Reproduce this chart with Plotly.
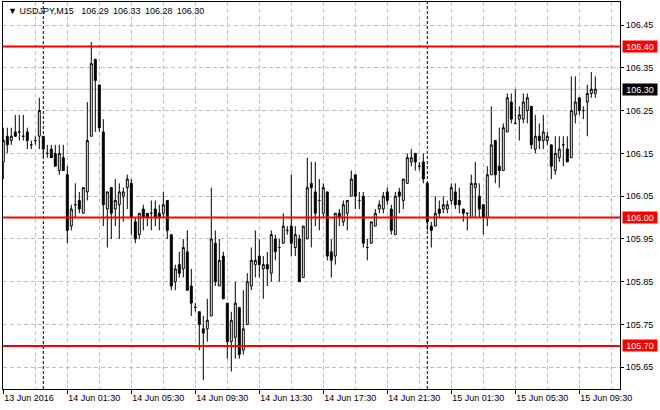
import plotly.graph_objects as go
import pandas as pd

symbol = "USDJPY,M15"
start_time = "2016-06-13 21:30"

opens = [
    106.13, 106.19, 106.18, 106.20, 106.20, 106.19, 106.20, 106.17, 106.18, 106.19,
    106.19, 106.15, 106.16, 106.15, 106.11, 106.14, 106.10, 105.98, 106.03, 106.04,
    106.01, 106.06, 106.19, 106.37, 106.31, 106.20, 106.02, 106.07, 106.02, 106.03,
    106.05, 106.07, 106.08, 105.99, 105.96, 106.02, 106.01, 106.01, 106.02, 106.01,
    106.01, 106.04, 105.96, 105.85, 105.89, 105.88, 105.92, 105.84, 105.79, 105.78,
    105.74, 105.74, 105.77, 105.94, 105.84, 105.91, 105.80, 105.71, 105.72, 105.79,
    105.69, 105.75, 105.84, 105.89, 105.91, 105.88, 105.89, 105.87, 105.95, 105.93,
    105.94, 105.97, 105.98, 105.93, 105.95, 105.86, 105.95, 106.08, 106.06, 106.04,
    106.01, 106.06, 105.92, 105.91, 106.01, 105.99, 106.01, 106.05, 106.10, 106.04,
    106.05, 105.93, 105.94, 105.98, 106.02, 106.02, 106.06, 106.02, 105.96, 106.06,
    106.04, 106.08, 106.13, 106.15, 106.12, 106.13, 106.08, 105.98, 105.98, 106.02,
    106.02, 106.02, 106.04, 106.06, 106.04, 106.02, 106.01, 106.00, 106.07, 106.05,
    106.03, 106.00, 106.10, 106.18, 106.12, 106.11, 106.20, 106.27, 106.22, 106.23,
    106.23, 106.25, 106.26, 106.16, 106.19, 106.18, 106.18, 106.17, 106.11, 106.14,
    106.17, 106.16, 106.14, 106.24, 106.28, 106.25, 106.27, 106.29, 106.29,
]
highs = [
    106.21, 106.21, 106.21, 106.24, 106.24, 106.24, 106.21, 106.18, 106.19, 106.28,
    106.19, 106.17, 106.17, 106.17, 106.17, 106.17, 106.12, 106.03, 106.08, 106.06,
    106.07, 106.27, 106.41, 106.37, 106.31, 106.23, 106.06, 106.07, 106.09, 106.08,
    106.07, 106.10, 106.09, 106.00, 106.01, 106.03, 106.01, 106.04, 106.04, 106.03,
    106.06, 106.04, 105.96, 105.89, 105.92, 105.95, 105.97, 105.88, 105.80, 105.78,
    105.77, 105.81, 106.07, 105.97, 105.95, 105.92, 105.80, 105.78, 105.85, 105.79,
    105.83, 105.87, 105.93, 105.97, 105.95, 105.91, 105.92, 105.97, 105.96, 105.95,
    106.01, 105.98, 106.10, 105.98, 105.96, 105.98, 106.14, 106.13, 106.13, 106.09,
    106.08, 106.06, 105.95, 106.01, 106.02, 106.04, 106.04, 106.11, 106.10, 106.06,
    106.06, 105.95, 105.99, 106.02, 106.04, 106.06, 106.07, 106.03, 106.06, 106.07,
    106.09, 106.15, 106.16, 106.15, 106.13, 106.15, 106.08, 105.99, 106.05, 106.04,
    106.05, 106.04, 106.08, 106.08, 106.07, 106.02, 106.01, 106.10, 106.13, 106.08,
    106.03, 106.12, 106.26, 106.18, 106.21, 106.22, 106.29, 106.29, 106.30, 106.26,
    106.29, 106.29, 106.26, 106.24, 106.22, 106.24, 106.20, 106.17, 106.19, 106.19,
    106.19, 106.19, 106.33, 106.33, 106.28, 106.26, 106.31, 106.34, 106.33,
]
lows = [
    106.09, 106.15, 106.17, 106.19, 106.18, 106.18, 106.16, 106.16, 106.17, 106.16,
    106.14, 106.14, 106.14, 106.12, 106.10, 106.11, 105.94, 105.97, 106.00, 106.01,
    106.01, 106.04, 106.19, 106.20, 106.20, 105.98, 105.93, 105.95, 105.98, 105.95,
    105.99, 106.02, 105.96, 105.94, 105.95, 105.97, 105.98, 105.97, 105.98, 105.97,
    106.00, 105.95, 105.83, 105.83, 105.86, 105.86, 105.83, 105.77, 105.78, 105.69,
    105.62, 105.71, 105.77, 105.84, 105.84, 105.81, 105.67, 105.64, 105.67, 105.67,
    105.68, 105.75, 105.83, 105.86, 105.86, 105.81, 105.84, 105.85, 105.90, 105.85,
    105.94, 105.96, 105.91, 105.91, 105.85, 105.86, 105.95, 105.93, 105.98, 105.97,
    106.00, 105.90, 105.86, 105.89, 105.98, 105.98, 105.97, 106.05, 106.02, 106.02,
    105.93, 105.90, 105.94, 105.98, 106.01, 106.01, 106.03, 105.96, 105.96, 106.01,
    106.02, 106.08, 106.12, 106.11, 106.11, 106.08, 105.97, 105.93, 105.98, 106.00,
    106.01, 106.01, 106.03, 106.02, 106.01, 105.99, 105.97, 106.00, 106.00, 106.00,
    105.96, 105.98, 106.10, 106.08, 106.07, 106.11, 106.20, 106.22, 106.22, 106.18,
    106.22, 106.22, 106.16, 106.15, 106.16, 106.16, 106.17, 106.09, 106.10, 106.13,
    106.12, 106.13, 106.14, 106.22, 106.24, 106.23, 106.19, 106.28, 106.28,
]
closes = [
    106.18, 106.17, 106.19, 106.19, 106.20, 106.19, 106.18, 106.17, 106.18, 106.25,
    106.16, 106.15, 106.14, 106.12, 106.15, 106.11, 105.97, 106.02, 106.03, 106.02,
    106.07, 106.18, 106.36, 106.32, 106.21, 106.03, 106.06, 106.01, 106.04, 106.06,
    106.06, 106.09, 106.00, 105.95, 106.01, 106.00, 106.00, 106.01, 106.00, 106.00,
    106.03, 105.97, 105.84, 105.88, 105.87, 105.93, 105.83, 105.80, 105.79, 105.75,
    105.73, 105.76, 105.95, 105.85, 105.90, 105.81, 105.71, 105.76, 105.80, 105.68,
    105.74, 105.85, 105.90, 105.90, 105.89, 105.89, 105.88, 105.96, 105.92, 105.93,
    105.98, 105.97, 105.94, 105.96, 105.85, 105.98, 106.07, 106.07, 106.01, 106.04,
    106.07, 105.91, 105.90, 106.01, 106.00, 106.03, 106.04, 106.09, 106.05, 106.04,
    105.94, 105.93, 105.99, 106.01, 106.03, 106.05, 106.04, 105.97, 106.05, 106.05,
    106.09, 106.14, 106.14, 106.13, 106.12, 106.09, 105.99, 105.97, 106.01, 106.01,
    106.03, 106.03, 106.07, 106.03, 106.03, 106.01, 106.01, 106.08, 106.08, 106.02,
    106.00, 106.10, 106.17, 106.10, 106.11, 106.21, 106.28, 106.23, 106.22, 106.24,
    106.27, 106.28, 106.17, 106.19, 106.18, 106.20, 106.19, 106.12, 106.15, 106.16,
    106.17, 106.13, 106.25, 106.27, 106.25, 106.25, 106.29, 106.30, 106.30,
]

tick_times = ["2016-06-13 21:30", "2016-06-14 01:30", "2016-06-14 05:30", "2016-06-14 09:30",
              "2016-06-14 13:30", "2016-06-14 17:30", "2016-06-14 21:30", "2016-06-15 01:30",
              "2016-06-15 05:30", "2016-06-15 09:30"]
tick_labels = ["13 Jun 2016", "14 Jun 01:30", "14 Jun 05:30", "14 Jun 09:30", "14 Jun 13:30",
               "14 Jun 17:30", "14 Jun 21:30", "15 Jun 01:30", "15 Jun 05:30", "15 Jun 09:30"]
minor_grid_times = ["2016-06-13 23:30", "2016-06-14 03:30", "2016-06-14 07:30", "2016-06-14 11:30",
                    "2016-06-14 15:30", "2016-06-14 19:30", "2016-06-14 23:30", "2016-06-15 03:30",
                    "2016-06-15 07:30", "2016-06-15 11:30"]
day_separators = ["2016-06-14 00:00", "2016-06-15 00:00"]

price_ticks = [106.45, 106.35, 106.25, 106.15, 106.05, 105.95, 105.85, 105.75, 105.65]
price_labels = ["106.45", "106.35", "106.25", "106.15", "106.05", "105.95", "105.85", "105.75", "105.65"]
red_levels = [106.40, 106.00, 105.70]
bid_price = 106.30

FONT = "Liberation Sans, Arial, sans-serif"

times = pd.date_range(start_time, periods=len(opens), freq="15min")
bar = pd.Timedelta(minutes=15)
x_range = [times[0] - 0.075 * bar, times[0] + 154.175 * bar]

fig = go.Figure()
fig.add_trace(go.Candlestick(
    x=times, open=opens, high=highs, low=lows, close=closes,
    increasing=dict(fillcolor="#ffffff", line=dict(color="#000000", width=1)),
    decreasing=dict(fillcolor="#000000", line=dict(color="#000000", width=1)),
    whiskerwidth=0, showlegend=False, hoverinfo="skip",
))

shapes = []
for t in day_separators:
    shapes.append(dict(type="line", xref="x", yref="paper", x0=t, x1=t, y0=0, y1=1,
                       line=dict(color="#000000", width=1, dash="3px,2px"), layer="below"))
shapes.append(dict(type="line", xref="paper", yref="y", x0=0, x1=1, y0=bid_price, y1=bid_price,
                   line=dict(color="#c0c0c0", width=1), layer="below"))
for lv in red_levels:
    shapes.append(dict(type="line", xref="paper", yref="y", x0=0, x1=1, y0=lv, y1=lv,
                       line=dict(color="#ff0000", width=2), layer="above"))

annotations = []
for lv in red_levels:
    annotations.append(dict(xref="paper", yref="y", x=1, y=lv, xanchor="left", yanchor="middle",
                            xshift=2, text=f"{lv:.2f}", showarrow=False, bgcolor="#ff0000",
                            font=dict(family=FONT, size=9, color="#ffffff"),
                            width=34, height=11, align="center", borderpad=0))
annotations.append(dict(xref="paper", yref="y", x=1, y=bid_price, xanchor="left", yanchor="middle",
                        xshift=2, text=f"{bid_price:.2f}", showarrow=False, bgcolor="#000000",
                        font=dict(family=FONT, size=9, color="#ffffff"),
                        width=34, height=11, align="center", borderpad=0))
title_text = "▼ " + symbol + "\u00a0\u00a0\u00a0" + "\u00a0\u2009".join(
    f"{v:.2f}" for v in (opens[-1], highs[-1], lows[-1], closes[-1]))
annotations.append(dict(xref="paper", yref="paper", x=0, y=1, xanchor="left", yanchor="top",
                        xshift=3, yshift=-2, text=title_text, showarrow=False,
                        font=dict(family=FONT, size=9, color="#000000")))

fig.update_layout(
    width=660, height=410,
    margin=dict(l=3, r=40, t=2, b=21),
    paper_bgcolor="#ffffff", plot_bgcolor="#ffffff",
    font=dict(family=FONT, size=9, color="#000000"),
    shapes=shapes, annotations=annotations,
    xaxis=dict(
        type="date", range=x_range, rangeslider=dict(visible=False),
        tickmode="array", tickvals=tick_times, ticktext=tick_labels,
        ticklabelposition="outside right",
        ticks="outside", ticklen=4, tickcolor="#000000", tickwidth=1,
        showgrid=True, gridcolor="#c0c0c0", griddash="4px,3px", gridwidth=1,
        minor=dict(tickmode="array", tickvals=minor_grid_times, showgrid=True,
                   gridcolor="#c0c0c0", griddash="4px,3px", ticks="", ticklen=0),
        showline=True, linecolor="#000000", linewidth=1, mirror=True,
        zeroline=False, fixedrange=True,
        tickfont=dict(family=FONT, size=9, color="#000000"),
    ),
    yaxis=dict(
        side="right", range=[105.5993, 106.5038],
        tickmode="array", tickvals=price_ticks, ticktext=price_labels,
        ticks="outside", ticklen=3, tickcolor="#000000", tickwidth=1,
        showgrid=True, gridcolor="#c0c0c0", griddash="4px,3px", gridwidth=1,
        showline=True, linecolor="#000000", linewidth=1, mirror=True,
        zeroline=False, fixedrange=True,
        tickfont=dict(family=FONT, size=9, color="#000000"),
    ),
)

fig.write_html("out.html", config={"displayModeBar": False},
               post_script="document.body.style.margin='0';document.body.style.padding='0';")
